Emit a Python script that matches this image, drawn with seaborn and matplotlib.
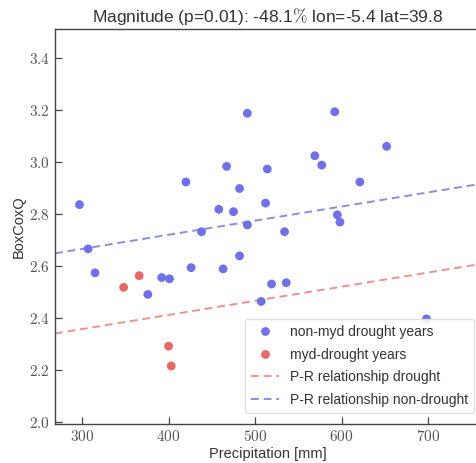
import numpy as np
import pandas as pd
import matplotlib
matplotlib.use('Agg')
import matplotlib.pyplot as plt
import seaborn as sns
from matplotlib.ticker import FuncFormatter

# ── Data ──────────────────────────────────────────────────────────────────────
precip_nondrought = [297, 307, 315, 376, 392, 401, 420, 426, 438, 458, 463,
                     467, 475, 482, 482, 491, 491, 507, 512, 514, 519, 534,
                     536, 569, 577, 592, 595, 598, 621, 652, 698]
boxcox_nondrought = [2.835, 2.665, 2.573, 2.490, 2.555, 2.550, 2.922, 2.593,
                     2.731, 2.817, 2.588, 2.982, 2.808, 2.897, 2.638, 2.757,
                     3.186, 2.463, 2.841, 2.972, 2.530, 2.731, 2.535, 3.023,
                     2.987, 3.192, 2.796, 2.768, 2.922, 3.059, 2.396]
precip_drought = [348, 366, 400, 403]
boxcox_drought = [2.517, 2.562, 2.291, 2.215]

# P-R regression lines (intercept, slope)
drought_fit = (2.194, 0.000543)
nondrought_fit = (2.502, 0.000543)

xlim = (268.7, 761)
ylim = (1.992, 3.51)

sns.set_style('ticks')
plt.rcParams['font.family'] = ['Liberation Sans', 'DejaVu Sans']
plt.rcParams['mathtext.fontset'] = 'cm'

df = pd.DataFrame({
    'Precipitation': precip_nondrought + precip_drought,
    'BoxCoxQ': boxcox_nondrought + boxcox_drought,
    'group': ['non-myd drought years'] * len(precip_nondrought)
             + ['myd-drought years'] * len(precip_drought),
})

fig = plt.figure(figsize=(4.77, 4.63), dpi=100)
ax = fig.add_axes([0.1153, 0.0842, 0.893, 0.8532])

sns.scatterplot(data=df, x='Precipitation', y='BoxCoxQ', hue='group',
                palette={'non-myd drought years': '#7070e8',
                         'myd-drought years': '#e86868'},
                s=40, edgecolor='none', ax=ax, zorder=3)

xs = np.array(xlim)
ax.plot(xs, drought_fit[0] + drought_fit[1] * xs, color='#f09090',
        ls='--', lw=1.4, dashes=(4, 2.5), label='P-R relationship drought')
ax.plot(xs, nondrought_fit[0] + nondrought_fit[1] * xs, color='#8c8ce6',
        ls='--', lw=1.4, dashes=(4, 2.5), label='P-R relationship non-drought')

ax.set_xlim(*xlim)
ax.set_ylim(*ylim)
ax.set_xticks([300, 400, 500, 600, 700])
ax.set_yticks([2.0, 2.2, 2.4, 2.6, 2.8, 3.0, 3.2, 3.4])
ax.xaxis.set_major_formatter(FuncFormatter(lambda v, p: f'${v:.0f}$'))
ax.yaxis.set_major_formatter(FuncFormatter(lambda v, p: f'${v:.1f}$'))
ax.tick_params(direction='in', length=5, width=0.9, labelsize=11,
               colors='#444444', labelcolor='#555555')
for s in ax.spines.values():
    s.set_color('#444444')
    s.set_linewidth(1.0)

ax.set_xlabel('Precipitation [mm]', fontsize=10.5, color='#333333', labelpad=2)
ax.set_ylabel('BoxCoxQ', fontsize=10.5, color='#333333', labelpad=2)
ax.set_title(r'Magnitude (p=0.01): -48.1$\%$ lon=-5.4 lat=39.8',
             fontsize=12.5, color='#333333', pad=5, x=0.5)

h, l = ax.get_legend_handles_labels()
leg = ax.legend(h, l, loc='lower right', fontsize=10, frameon=True,
                framealpha=0.9, edgecolor='#dddddd', borderpad=0.45,
                handlelength=2.0, labelspacing=0.62, bbox_to_anchor=(1.0, 0.01))
for t in leg.get_texts():
    t.set_color('#333333')

plt.savefig('out.png', dpi=100)
